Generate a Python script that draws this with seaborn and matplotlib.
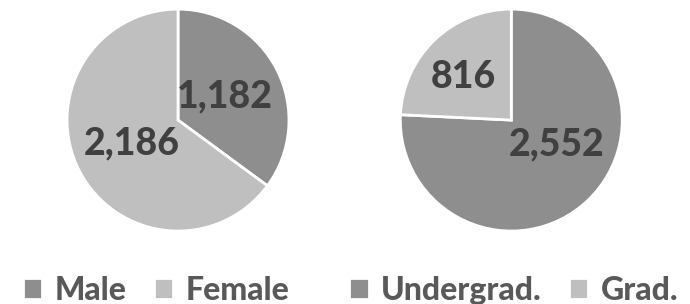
import matplotlib
matplotlib.use("Agg")
import matplotlib.pyplot as plt
import seaborn as sns

gender_labels = ["Male", "Female"]
gender_counts = [1182, 2186]
level_labels = ["Undergrad.", "Grad."]
level_counts = [2552, 816]

sns.set_theme(style="white")
plt.rcParams["font.family"] = ["Lato", "DejaVu Sans"]

dark = "#8e8e8e"
light = "#bfbfbf"
colors = [dark, light]

fig = plt.figure(figsize=(6.9, 3.04), dpi=100)
ax1 = fig.add_axes([0.097, 0.240, 0.322, 0.730])
ax2 = fig.add_axes([0.580, 0.240, 0.322, 0.730])


def draw_pie(ax, counts, labels, legend_x):
    wedges, texts = ax.pie(
        counts,
        colors=colors,
        startangle=90,
        counterclock=False,
        labels=[f"{v:,}" for v in counts],
        labeldistance=0.47,
        wedgeprops=dict(edgecolor="white", linewidth=2),
        textprops=dict(fontsize=27, fontweight="black", color="#404040"),
    )
    for t in texts:
        t.set_horizontalalignment("center")
        t.set_verticalalignment("center")
    ax.set_xlim(-1.0, 1.0)
    ax.set_ylim(-1.0, 1.0)
    ax.set_aspect("equal")
    fig.legend(
        wedges, labels,
        loc="center", bbox_to_anchor=(legend_x, 0.045), ncol=2,
        frameon=False, handlelength=0.6, handleheight=0.6,
        handletextpad=0.4, columnspacing=0.85,
        prop=dict(size=23, weight="black"), labelcolor="#595959",
    )
    return texts


draw_pie(ax1, gender_counts, gender_labels, 0.226)
texts = draw_pie(ax2, level_counts, level_labels, 0.745)
texts[1].set_position((-0.43, 0.39))
texts[0].set_position((0.41, -0.22))

fig.savefig("out.png", dpi=100)
